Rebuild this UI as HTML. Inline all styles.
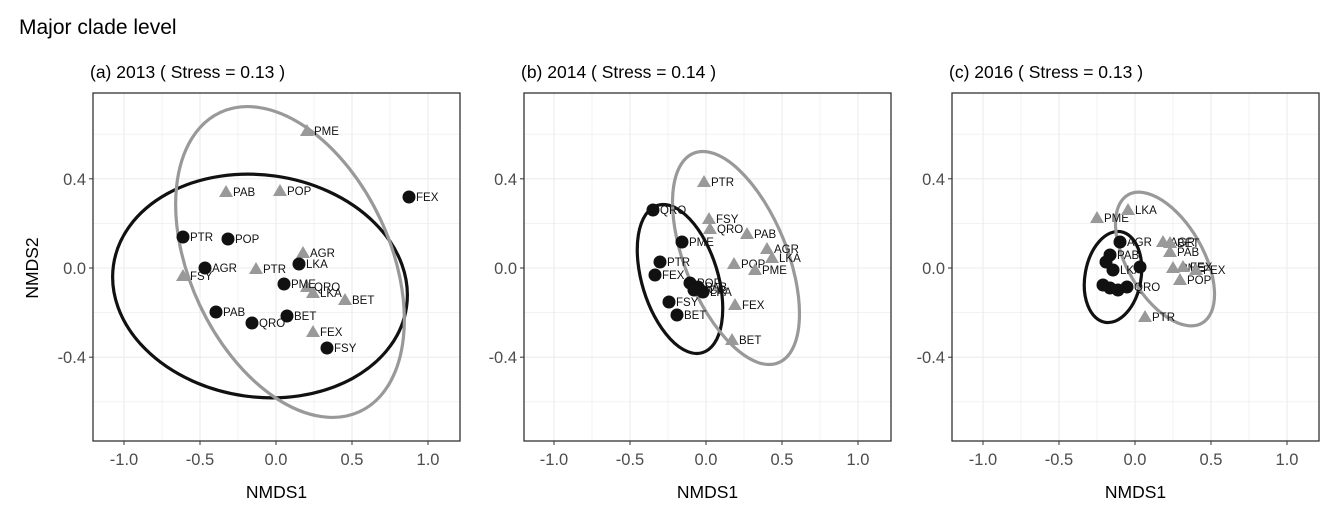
<!DOCTYPE html>
<html><head><meta charset="utf-8"><style>
body{margin:0;background:#fff;}
svg{display:block;font-family:"Liberation Sans",Arial,sans-serif;}
</style></head><body>
<svg id="s" width="1343" height="510" xmlns="http://www.w3.org/2000/svg">
<text x="19" y="34" font-size="21" fill="#000" font-family="Liberation Sans, sans-serif">Major clade level</text>
</svg>
<script>
const s=document.getElementById('s');let h='';
const panels=[{z:276,L:93,t:'(a) 2013 ( Stress = 0.13 )'},{z:706,L:524,t:'(b) 2014 ( Stress = 0.14 )'},{z:1135,L:952,t:'(c) 2016 ( Stress = 0.13 )'}];
const T=93,B=441,sc=152,y0=268,ys=223;
panels.forEach((p,i)=>{
 const R=p.L+367;
 h+=`<text x="${p.L-3}" y="78" font-size="17.5" fill="#000">${p.t}</text>`;
 h+=`<rect x="${p.L}" y="${T}" width="${R-p.L}" height="${B-T}" fill="#fff"/>`;
 for(let v=-1.25;v<=1.25;v+=0.25){const x=p.z+v*sc;if(x<=p.L||x>=R)continue;
  const major=Math.abs(v*2-Math.round(v*2))<1e-6;h+=`<line x1="${x}" x2="${x}" y1="${T}" y2="${B}" stroke="#ebebeb" stroke-width="${major?1.1:0.6}"/>`;}
 for(let v=-0.8;v<=0.8;v+=0.2){const y=y0-v*ys;if(y<=T||y>=B)continue;
  const major=Math.abs(v/0.4-Math.round(v/0.4))<1e-6;h+=`<line x1="${p.L}" x2="${R}" y1="${y}" y2="${y}" stroke="#ebebeb" stroke-width="${major?1.1:0.6}"/>`;}
 [-1,-0.5,0,0.5,1].forEach(v=>{const x=p.z+v*sc;h+=`<line x1="${x}" x2="${x}" y1="${B}" y2="${B+4}" stroke="#333"/><text x="${x}" y="${B+24}" font-size="16.5" fill="#4d4d4d" text-anchor="middle">${v.toFixed(1)}</text>`;});
 [0.4,0,-0.4].forEach(v=>{const y=y0-v*ys;h+=`<line x1="${p.L-4}" x2="${p.L}" y1="${y}" y2="${y}" stroke="#333"/><text x="${p.L-7}" y="${y+6}" font-size="16.5" fill="#4d4d4d" text-anchor="end">${v.toFixed(1)}</text>`;});
 h+=`<text x="${(p.L+R)/2}" y="498" font-size="17.5" text-anchor="middle" fill="#000">NMDS1</text>`;
 p.R=R;
});
h+=`<text transform="translate(38,268) rotate(-90)" font-size="17.5" text-anchor="middle" fill="#000">NMDS2</text>`;
function C(x,y,l){return `<circle cx="${x}" cy="${y}" r="6.5" fill="#111"/>`+(l?`<text x="${x+7}" y="${y+4}" font-size="11.5" fill="#111">${l}</text>`:'');}
function Tr(x,y,l){return `<polygon points="${x},${y-7} ${x-7},${y+5} ${x+7},${y+5}" fill="#999"/>`+(l?`<text x="${x+7}" y="${y+4}" font-size="11.5" fill="#111">${l}</text>`:'');}
function E(cx,cy,rx,ry,a,c){return `<ellipse cx="${cx}" cy="${cy}" rx="${rx}" ry="${ry}" transform="rotate(${a} ${cx} ${cy})" fill="none" stroke="${c}" stroke-width="3.2"/>`;}
// panel a
h+=E(260,286,148,111,8,'#111')+E(290,262,100,165,-25,'#999');
[[307,131,'PME'],[226,192,'PAB'],[280,191,'POP'],[303,253,'AGR'],[256,269,'PTR'],[183,276,'FSY'],[307,287,'QRO'],[313,293,'LKA'],[345,300,'BET'],[313,332,'FEX']].forEach(d=>h+=Tr(...d));
[[183,237,'PTR'],[228,239,'POP'],[205,268,'AGR'],[216,312,'PAB'],[252,323,'QRO'],[284,284,'PME'],[299,264,'LKA'],[287,316,'BET'],[327,348,'FSY'],[409,197,'FEX']].forEach(d=>h+=C(...d));
// panel b
h+=E(680,279,38,77,-17,'#111')+E(736,258,51,113,-22,'#999');
[[704,182,'PTR'],[709,219,'FSY'],[710,229,'QRO'],[747,234,'PAB'],[767,249,'AGR'],[772,258,'LKA'],[734,264,'POP'],[755,270,'PME'],[735,305,'FEX'],[732,340,'BET']].forEach(d=>h+=Tr(...d));
[[653,210,'QRO'],[682,242,'PME'],[660,262,'PTR'],[655,275,'FEX'],[690,283,'POP'],[698,287,'PAB'],[703,292,'LKA'],[669,302,'FSY'],[677,315,'BET'],[694,290,'AGR']].forEach(d=>h+=C(...d));
// panel c
h+=E(1113,277,28,46,10,'#111')+E(1165,259,38,74,-30,'#999');
[[1097,218,'PME'],[1128,210,'LKA'],[1145,317,'PTR'],[1163,242,'AGR'],[1170,243,'BET'],[1170,252,'PAB'],[1173,268,'PME'],[1183,267,'FEX'],[1180,280,'POP'],[1196,270,'FEX']].forEach(d=>h+=Tr(...d));
[[1120,242,'AGR'],[1110,255,'PAB'],[1113,270,'LKA'],[1103,285,''],[1110,288,''],[1127,287,'QRO'],[1140,267,''],[1106,262,''],[1118,290,'']].forEach(d=>h+=C(...d));
panels.forEach(p=>{h+=`<rect x="${p.L}" y="${T}" width="${p.R-p.L}" height="${B-T}" fill="none" stroke="#333" stroke-width="1.3"/>`;});
s.insertAdjacentHTML('beforeend',h);
</script>
</body></html>
